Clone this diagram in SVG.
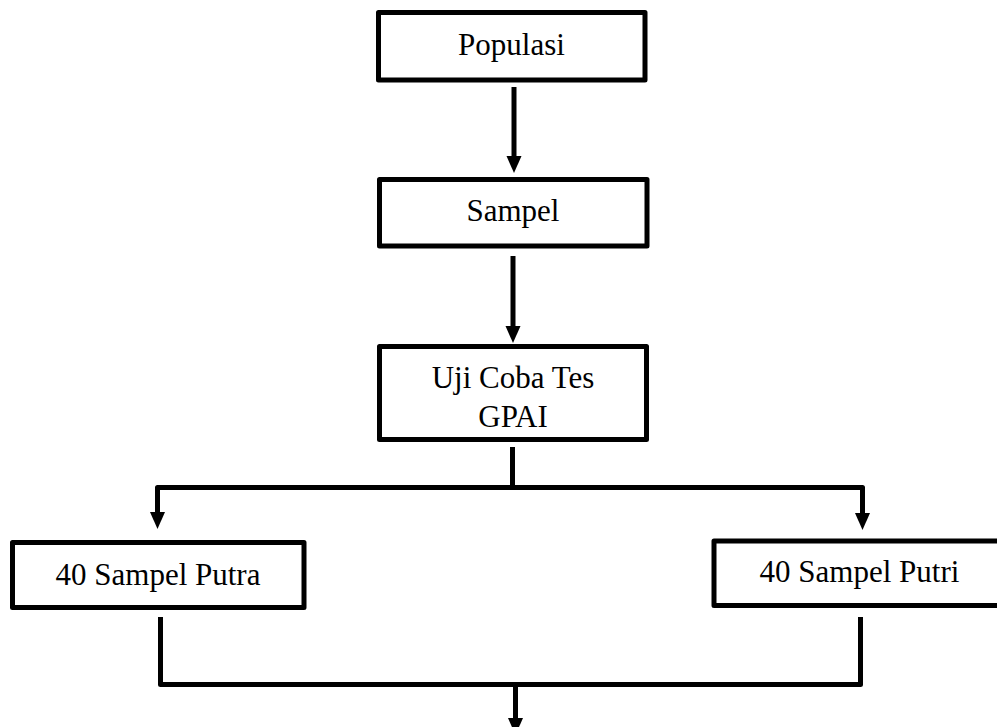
<svg xmlns="http://www.w3.org/2000/svg" width="997" height="727" viewBox="0 0 997 727">
<style>
.box{fill:#fff;stroke:#000;stroke-width:5;stroke-linejoin:round}
.lbl{font-family:"Liberation Serif","Tinos","Times New Roman","DejaVu Serif",serif;font-size:31px;fill:#000;text-anchor:middle}
.ln{fill:none;stroke:#000;stroke-width:5;stroke-linejoin:round}
</style>
<rect width="997" height="727" fill="#fff"/>
<g id="connectors">
<line class="ln" x1="514" y1="87" x2="514" y2="158"/>
<polygon points="506.5,156 521.5,156 514,173" fill="#000"/>
<line class="ln" x1="513" y1="256" x2="513" y2="328"/>
<polygon points="505.5,326 520.5,326 513,343" fill="#000"/>
<line class="ln" x1="512.5" y1="447" x2="512.5" y2="487.5"/>
<path class="ln" d="M157.5,514 V487.5 H862.5 V514"/>
<polygon points="150,512 165,512 157.5,529" fill="#000"/>
<polygon points="855,513 870,513 862.5,530" fill="#000"/>
<path class="ln" d="M160.5,617 V684.5 H860.5 V617"/>
<line class="ln" x1="515.5" y1="684.5" x2="515.5" y2="720"/>
<polygon points="508,718 523,718 515.5,735" fill="#000"/>
</g>
<g id="populasi">
<rect class="box" x="378.5" y="12.5" width="266.5" height="67.5"/>
<text class="lbl" x="511.5" y="55">Populasi</text>
</g>
<g id="sampel">
<rect class="box" x="379.5" y="179.5" width="267.5" height="66.5"/>
<text class="lbl" x="513" y="221">Sampel</text>
</g>
<g id="uji">
<rect class="box" x="379.5" y="346.5" width="267" height="93"/>
<text class="lbl" x="513" y="388">Uji Coba Tes</text>
<text class="lbl" x="513" y="427">GPAI</text>
</g>
<g id="putra">
<rect class="box" x="12.5" y="542.5" width="291.5" height="65"/>
<text class="lbl" x="158" y="585">40 Sampel Putra</text>
</g>
<g id="putri">
<rect class="box" x="714" y="541" width="290" height="64.5"/>
<text class="lbl" x="859.5" y="582">40 Sampel Putri</text>
</g>
</svg>
